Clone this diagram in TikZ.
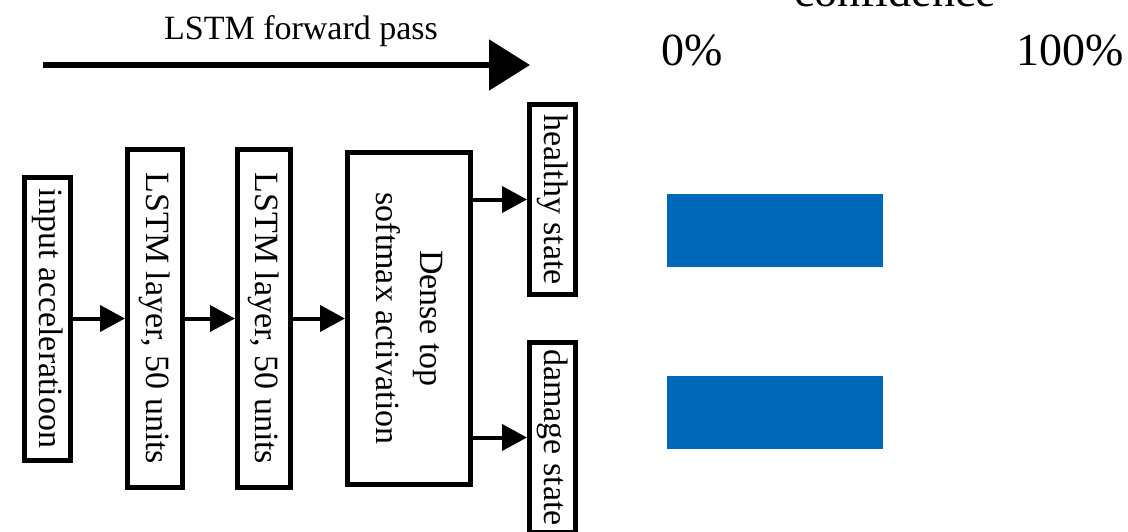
\documentclass[tikz,border=0pt]{standalone}
\usepackage{fontspec}
\setmainfont{Liberation Serif}
\usetikzlibrary{arrows.meta}
\definecolor{barblue}{HTML}{0068B8}

\begin{document}
\begin{tikzpicture}[x=1pt, y=-1pt,
  layer/.style={draw, line width=5pt, rotate=-90, inner sep=0pt,
    font=\fontsize{34}{44}\selectfont, align=center},
  flow/.style={line width=4pt, -{Triangle[length=25pt, width=26pt]}},
  pct/.style={font=\fontsize{46}{50}\selectfont, anchor=base}]
  \useasboundingbox (0,0) rectangle (1128,531);
  \clip (0,0) rectangle (1128,531);
  % forward pass
  \coordinate (passtail) at (43,65);
  \coordinate (passhead) at (530,65);
  \draw[line width=5.5pt, -{Triangle[length=41pt, width=50pt]}] (passtail) -- (passhead);
  \node[font=\fontsize{34}{38}\selectfont, anchor=base] (passlabel) at (301,39) {LSTM forward pass};
  % layers
  \node[layer, minimum width=283pt, minimum height=46pt] (input) at (47.5,318.5) {input acceleratioon};
  \node[layer, minimum width=338pt, minimum height=55pt] (lstmA) at (155,318.5) {LSTM layer, 50 units};
  \node[layer, minimum width=338pt, minimum height=53pt] (lstmB) at (264,318.5) {LSTM layer, 50 units};
  \node[layer, minimum width=332pt, minimum height=123pt] (dense) at (409,318.5) {Dense top\\softmax activation};
  \node[layer, minimum width=190pt, minimum height=46pt] (healthy) at (552.5,199.5) {healthy state};
  \node[layer, minimum width=190pt, minimum height=46pt] (damage) at (552.5,437.5) {damage state};
  \draw[flow] (input) -- (lstmA);
  \draw[flow] (lstmA) -- (lstmB);
  \draw[flow] (lstmB) -- (dense);
  \draw[flow] (dense.north |- healthy) -- (healthy);
  \draw[flow] (dense.north |- damage) -- (damage);
  % confidence
  \node[pct] (conf) at (895,6) {confidence};
  \node[pct] (zero) at (692.5,65) {0\%};
  \node[pct] (full) at (1070,65) {100\%};
  \fill[barblue] (667,194) rectangle (883,267);
  \fill[barblue] (667,376) rectangle (883,449);
\end{tikzpicture}
\end{document}
